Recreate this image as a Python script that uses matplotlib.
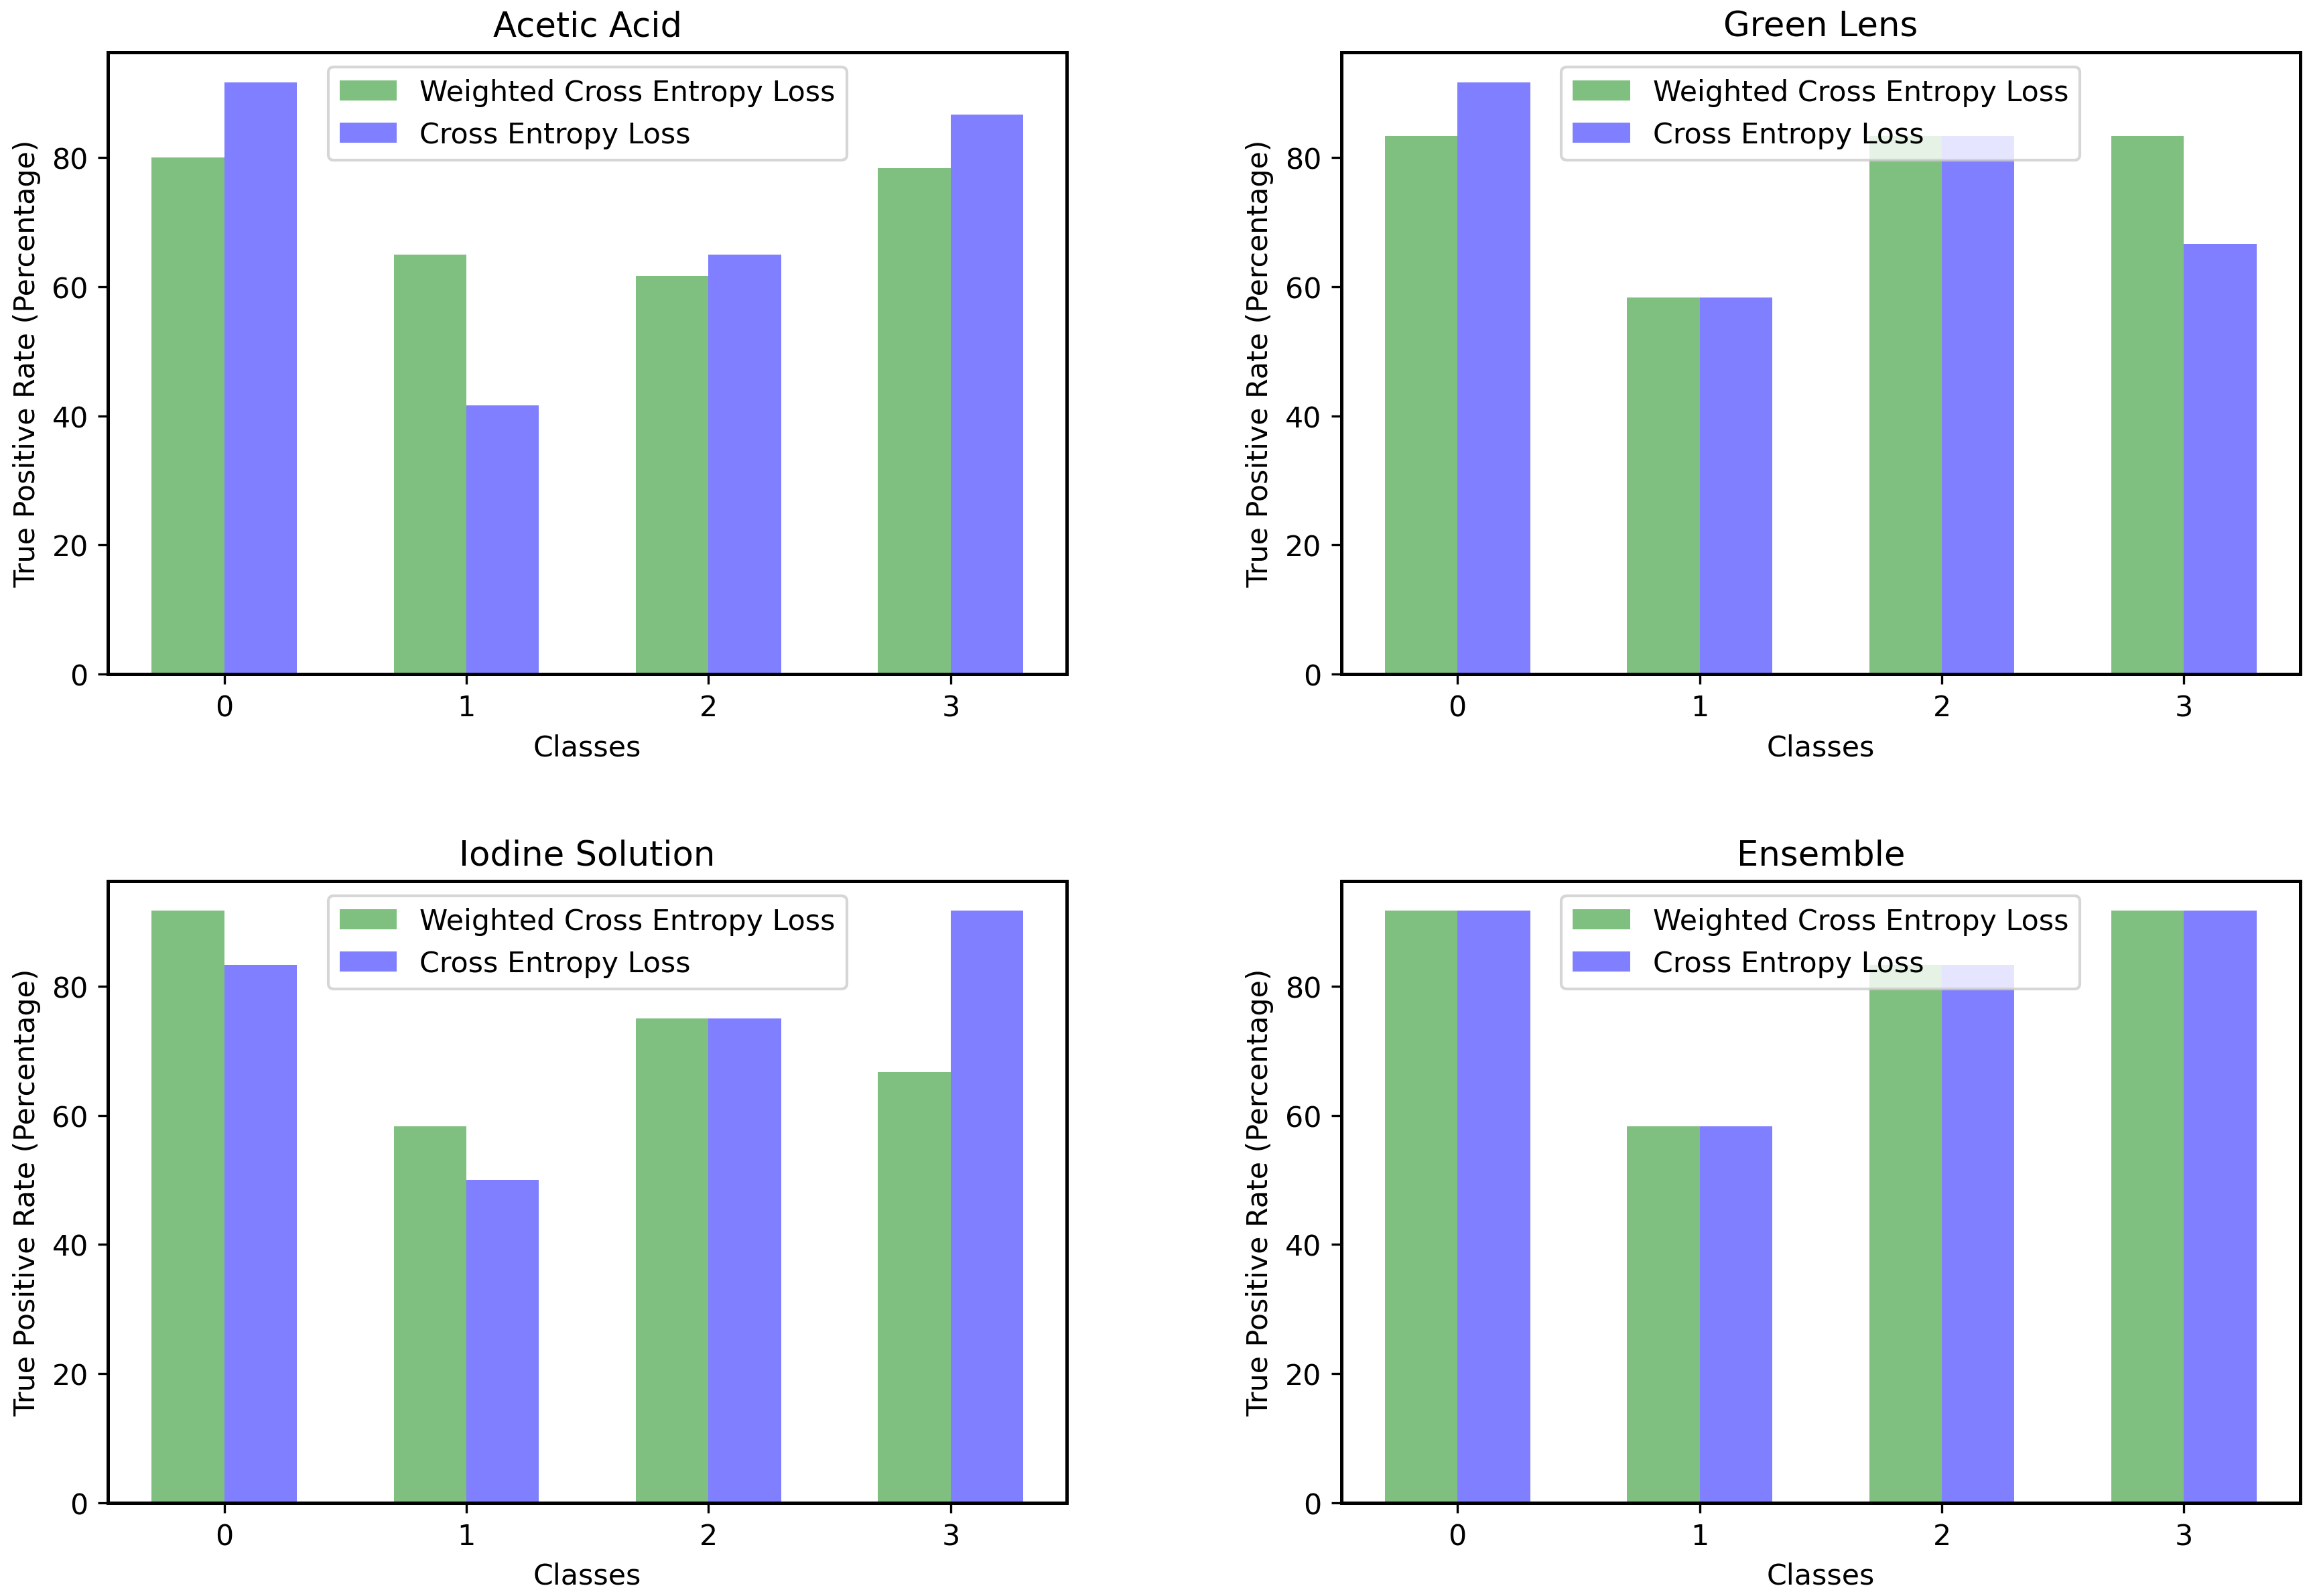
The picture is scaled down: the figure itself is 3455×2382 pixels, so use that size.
import numpy as np
import matplotlib
matplotlib.use("Agg")
import matplotlib.pyplot as plt

plt.rcParams["font.size"] = 10.25
plt.rcParams["axes.titlesize"] = 12.3
plt.rcParams["axes.linewidth"] = 1.2

classes = [0, 1, 2, 3]
titles = ["Acetic Acid", "Green Lens", "Iodine Solution", "Ensemble"]

# true positive rate per class (percentage)
weighted_ce = [
    [80.0, 65.0, 61.67, 78.33],
    [83.33, 58.33, 83.33, 83.33],
    [91.67, 58.33, 75.0, 66.67],
    [91.67, 58.33, 83.33, 91.67],
]
plain_ce = [
    [91.67, 41.67, 65.0, 86.67],
    [91.67, 58.33, 83.33, 66.67],
    [83.33, 50.0, 75.0, 91.67],
    [91.67, 58.33, 83.33, 91.67],
]

width = 0.3
x = np.arange(len(classes))

fig, axes = plt.subplots(2, 2, figsize=(11.517, 7.943), dpi=300)
fig.subplots_adjust(left=0.0466, right=0.9936, top=0.9667, bottom=0.0583,
                    wspace=0.286, hspace=0.333)

for ax, title, w, c in zip(axes.flat, titles, weighted_ce, plain_ce):
    ax.bar(x - width / 2, w, width, color="g", alpha=0.5,
           label="Weighted Cross Entropy Loss")
    ax.bar(x + width / 2, c, width, color="b", alpha=0.5,
           label="Cross Entropy Loss")
    ax.set_xticks(x)
    ax.set_xticklabels([str(k) for k in classes])
    ax.tick_params(width=0.8)
    ax.set_xlabel("Classes")
    ax.set_ylabel("True Positive Rate (Percentage)")
    ax.set_title(title)
    ax.legend(loc="upper center")

fig.savefig("out.png", dpi=300)
